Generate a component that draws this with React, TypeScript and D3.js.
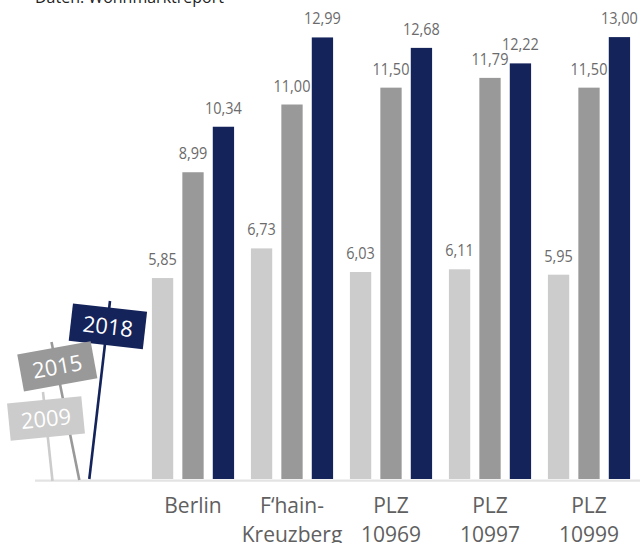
import React from "react";
import * as d3 from "d3";

const categories = ["Berlin", "F‘hain-\nKreuzberg", "PLZ\n10969", "PLZ\n10997", "PLZ\n10999"];
const years = ["2009", "2015", "2018"];
const values2009 = [5.85, 6.73, 6.03, 6.11, 5.95];
const values2015 = [8.99, 11.0, 11.5, 11.79, 11.5];
const values2018 = [10.34, 12.99, 12.68, 12.22, 13.0];
const sourceNote = "Daten: Wohnmarktreport";

const seriesValues = [values2009, values2015, values2018];
const colors = ["#cccccc", "#999999", "#14235a"];

// legend sign layout (visual placement of the signposts)
const signLayout = [
  { cx: 46, cy: 418.5, rot: -5.6, post: [[43, 392], [52.5, 481]] },
  { cx: 57.3, cy: 366.4, rot: -10.3, post: [[51.5, 342], [79.3, 480]] },
  { cx: 107.9, cy: 326.3, rot: 6.5, post: [[110, 301], [89.3, 479]] },
];

const W = 640;
const H = 543;
const FONT = "'Open Sans', Roboto, sans-serif";

export default function App() {
  const x0 = d3.scaleBand<string>().domain(categories).range([143.5, 638.5]).paddingInner(0.17).paddingOuter(0.085);
  const x1 = d3.scaleBand<string>().domain(years).range([0, x0.bandwidth()]).paddingInner(0.3).paddingOuter(0);
  const y = d3.scaleLinear().domain([0, 13]).range([475.2, 37.1]);
  const baseline = 479;
  const fmt = (v: number) => d3.format(".2f")(v).replace(".", ",");

  const rows = categories.map((c, i) => ({ c, vals: seriesValues.map((s) => s[i]) }));

  return (
    <svg width={W} height={H} style={{ position: "absolute", left: 0, top: 0, background: "#fff" }} fontFamily={FONT}>
      <text x={35} y={3} fontSize={16} fill="#222">
        {sourceNote}
      </text>

      {rows.map((r) => (
        <g key={r.c} transform={`translate(${x0(r.c)},0)`}>
          {r.vals.map((v, j) => {
            const bx = x1(years[j])!;
            const bw = x1.bandwidth();
            const top = y(v);
            return (
              <g key={years[j]}>
                <rect x={bx} y={top} width={bw} height={baseline - top} fill={colors[j]} />
                <text
                  transform={`translate(${bx + bw / 2},${top - 13}) scale(1,1.12)`}
                  textAnchor="middle"
                  fontSize={14.5}
                  fill="#6b6b6b"
                >
                  {fmt(v)}
                </text>
              </g>
            );
          })}
        </g>
      ))}

      <line x1={35} x2={640} y1={480.6} y2={480.6} stroke="#e3e3e3" strokeWidth={2.2} />

      {rows.map((r) => {
        const cx = x0(r.c)! + x0.bandwidth() / 2;
        return r.c.split("\n").map((line, k) => (
          <text key={r.c + k} x={cx} y={513 + k * 29} textAnchor="middle" fontSize={21} fill="#606060">
            {line}
          </text>
        ));
      })}

      {signLayout.map((s, i) => (
        <line
          key={"post" + i}
          x1={s.post[0][0]}
          y1={s.post[0][1]}
          x2={s.post[1][0]}
          y2={s.post[1][1]}
          stroke={colors[i]}
          strokeWidth={2.6}
        />
      ))}
      {[2, 1, 0].map((i) => {
        const s = signLayout[i];
        return (
          <g key={"sign" + i} transform={`translate(${s.cx},${s.cy}) rotate(${s.rot})`}>
            <rect x={-37.3} y={-18.8} width={74.6} height={37.6} fill={colors[i]} />
            <text x={0} y={8} textAnchor="middle" fontSize={22} fill="#fff">
              {years[i]}
            </text>
          </g>
        );
      })}
    </svg>
  );
}
